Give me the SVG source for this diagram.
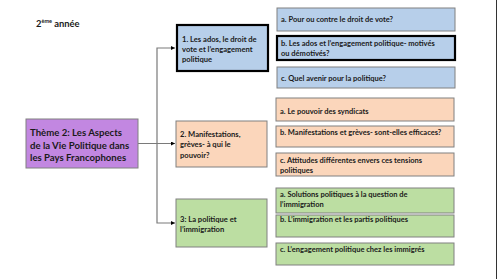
<svg xmlns="http://www.w3.org/2000/svg" width="500" height="279" viewBox="0 0 500 279">
<style>
text{font-family:Lato,"Liberation Sans",sans-serif;font-weight:bold;fill:#1a1a1a}
.s{font-size:7.5px}
.m{font-size:7.6px}
.t{font-size:9.6px}
.blue{fill:#b7cfea;stroke:#808080;stroke-width:1}
.peach{fill:#fbd6bb;stroke:#808080;stroke-width:1}
.green{fill:#bcdea2;stroke:#808080;stroke-width:1}
.thick{stroke:#000;stroke-width:2.2}
.con{fill:none;stroke:#7a7a7a;stroke-width:1.2}
</style>
<defs>
<marker id="ar" viewBox="0 0 6 6" refX="6" refY="3" markerWidth="4" markerHeight="4" orient="auto" markerUnits="userSpaceOnUse"><path d="M0,0 L6,3 L0,6 z" fill="#000"/></marker>
</defs>
<rect width="500" height="279" fill="#fff"/>
<line x1="496.5" y1="0" x2="496.5" y2="279" stroke="#333" stroke-width="1"/>
<text x="36" y="27" style="font-size:9.4px">2<tspan style="font-size:5.5px" dy="-3.8">ème</tspan><tspan dy="3.8"> année</tspan></text>
<g id="connectors">
<line class="con" x1="138" y1="143.5" x2="175" y2="143.5" marker-end="url(#ar)"/>
<polyline class="con" points="175,48 157,48 157,223 175,223" marker-end="url(#ar)"/>
<path d="M175,48 l-4,-2 v4z" fill="#000"/>
</g>
<g id="theme">
<rect x="26" y="119" width="112" height="49" fill="#c287e1" stroke="#808080"/>
<text class="t" x="30" y="136">Thème 2: Les Aspects</text>
<text class="t" x="30" y="149">de la Vie Politique dans</text>
<text class="t" x="30" y="161">les Pays Francophones</text>
</g>
<g id="n1">
<rect class="blue thick" x="177" y="25" width="91" height="46"/>
<text class="m" x="182" y="42">1. Les ados, le droit de</text>
<text class="m" x="182" y="52">vote et l’engagement</text>
<text class="m" x="182" y="62">politique</text>
</g>
<g id="n2">
<rect class="peach" x="176" y="121" width="91" height="46"/>
<text class="m" x="180" y="137">2. Manifestations,</text>
<text class="m" x="180" y="147">grèves- à qui le</text>
<text class="m" x="180" y="158">pouvoir?</text>
</g>
<g id="n3">
<rect class="green" x="176" y="199" width="91" height="48"/>
<text class="m" x="180" y="222">3: La politique et</text>
<text class="m" x="180" y="232">l’immigration</text>
</g>
<g id="n1a">
<rect class="blue" x="277" y="8" width="178" height="23"/>
<text class="s" x="281" y="22">a. Pour ou contre le droit de vote?</text>
</g>
<g id="n1b">
<rect class="blue thick" x="277" y="36" width="178" height="24"/>
<text class="s" x="281" y="46">b. Les ados et l’engagement politique- motivés</text>
<text class="s" x="281" y="56">ou démotivés?</text>
</g>
<g id="n1c">
<rect class="blue" x="277" y="67" width="178" height="21"/>
<text class="s" x="281" y="81">c. Quel avenir pour la politique?</text>
</g>
<g id="n2a">
<rect class="peach" x="276" y="98" width="178" height="23"/>
<text class="s" x="280" y="114">a. Le pouvoir des syndicats</text>
</g>
<g id="n2b">
<rect class="peach" x="276" y="126" width="178" height="21"/>
<text class="s" x="280" y="135">b. Manifestations et grèves- sont-elles efficaces?</text>
</g>
<g id="n2c">
<rect class="peach" x="276" y="153" width="178" height="23"/>
<text class="s" x="280" y="163">c. Attitudes différentes envers ces tensions</text>
<text class="s" x="280" y="173">politiques</text>
</g>
<g id="n3a">
<rect class="green" x="276" y="188" width="178" height="25"/>
<text class="s" x="280" y="197">a. Solutions politiques à la question de</text>
<text class="s" x="280" y="207">l’immigration</text>
</g>
<g id="n3b">
<rect class="green" x="276" y="215" width="178" height="22"/>
<text class="s" x="280" y="222">b. L’immigration et les partis politiques</text>
</g>
<g id="n3c">
<rect class="green" x="276" y="243" width="178" height="22"/>
<text class="s" x="280" y="252">c. L’engagement politique chez les immigrés</text>
</g>
</svg>
